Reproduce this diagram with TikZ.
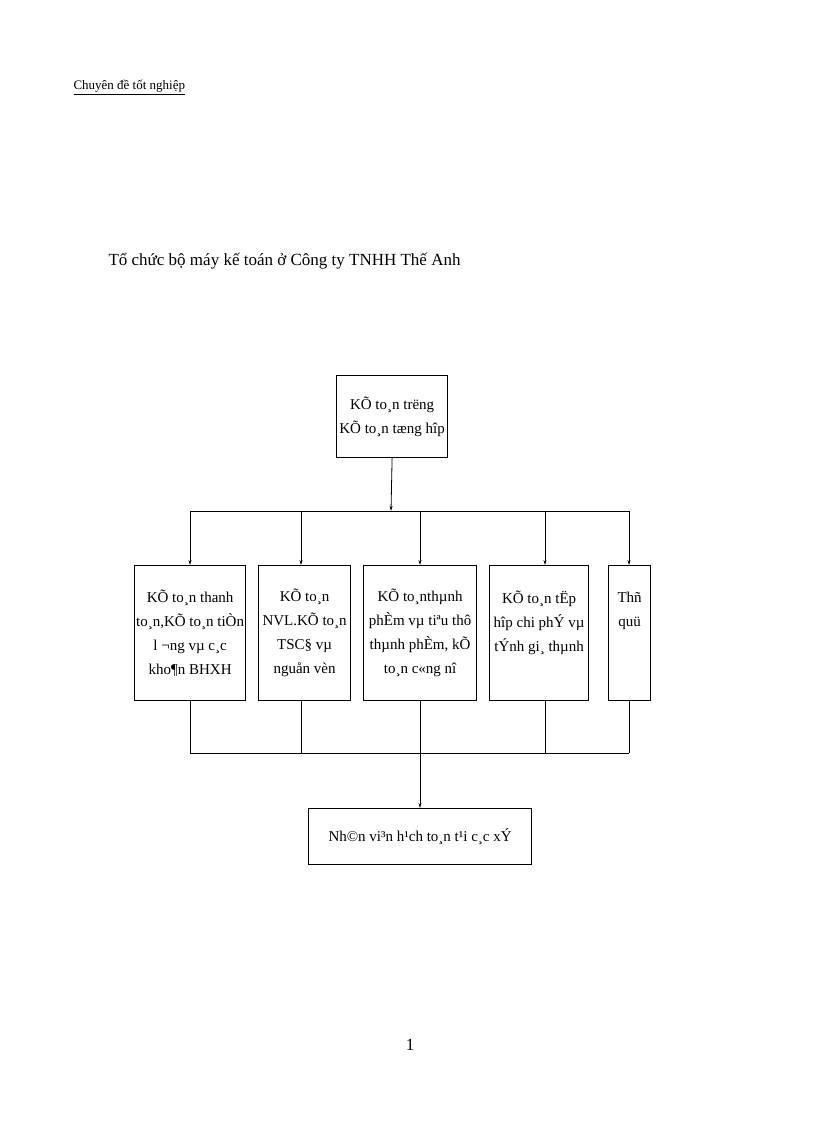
\documentclass[tikz,border=0pt]{standalone}
\usepackage{fontspec}
\setmainfont{Liberation Serif}
\usetikzlibrary{arrows.meta}
\begin{document}
\begin{tikzpicture}[x=1pt,y=-1pt,
 bx/.style={draw,line width=1.2pt,align=center,font=\fontsize{15}{24}\selectfont,inner sep=0pt,anchor=north west},
 ln/.style={line width=0.8pt},
 ar/.style={ln,-{Stealth[length=5pt,width=3pt]}}]
\useasboundingbox (0,0) rectangle (816,1123);
\node[anchor=base west,font=\fontsize{13}{15}\selectfont] (hd) at (70,90) {\underline{Chuyên đề tốt nghiệp}};
\node[anchor=base west,font=\fontsize{17}{20}\selectfont] (tt) at (105,265) {Tổ chức bộ máy kế toán ở Công ty TNHH Thế Anh};
\node[bx,minimum width=111pt,minimum height=82pt] (top) at (336,375) {KÕ to¸n tr­ëng\\KÕ to¸n tæng hîp};
\node[bx,minimum width=111pt,minimum height=135pt] (b1) at (134,565) {KÕ to¸n thanh\\to¸n,KÕ to¸n tiÒn\\l ­¬ng vµ c¸c\\kho¶n BHXH};
\node[bx,minimum width=92pt,minimum height=135pt] (b2) at (258,565) {KÕ to¸n\\NVL.KÕ to¸n\\TSC§ vµ\\nguån vèn};
\node[bx,minimum width=113pt,minimum height=135pt] (b3) at (363,565) {KÕ to¸nthµnh\\phÈm vµ tiªu thô\\thµnh phÈm, kÕ\\to¸n c«ng nî};
\node[bx,minimum width=99pt,minimum height=135pt,align=center] (b4) at (489,565) {\raisebox{0pt}{KÕ to¸n tËp}\\hîp chi phÝ vµ\\tÝnh gi¸ thµnh\\\phantom{x}};
\node[bx,minimum width=42pt,minimum height=135pt] (b5) at (608,565) {Thñ\\quü\\\phantom{x}\\\phantom{x}};
\node[bx,minimum width=223pt,minimum height=56pt] (bot) at (308,808) {Nh©n vi³n h¹ch to¸n t¹i c¸c xÝ};
\coordinate (bus) at (391,511);
\coordinate (jl) at (190,511); \coordinate (jr) at (629,511);
\draw[ar] (top.south) -- (bus);
\draw[ln] (jl) -- (jr);
\draw[ar] (jl) -- (b1.north -| jl);
\draw[ar] (301,511) -- (b2.north -| 301,0);
\draw[ar] (420,511) -- (b3.north -| 420,0);
\draw[ar] (545,511) -- (b4.north -| 545,0);
\draw[ar] (jr) -- (b5.north -| jr);
\coordinate (ml) at (190,753); \coordinate (mr) at (629,753); \coordinate (mm) at (420,753);
\draw[ln] (ml) -- (mr);
\draw[ln] (b1.south -| ml) -- (ml);
\draw[ln] (b2.south -| 301,0) -- (301,753);
\draw[ln] (b3.south -| mm) -- (mm);
\draw[ln] (b4.south -| 545,0) -- (545,753);
\draw[ln] (b5.south -| mr) -- (mr);
\draw[ar] (mm) -- (bot.north -| mm);
\node[anchor=base,font=\fontsize{17}{20}\selectfont] (pg) at (410,1050) {1};
\end{tikzpicture}
\end{document}
